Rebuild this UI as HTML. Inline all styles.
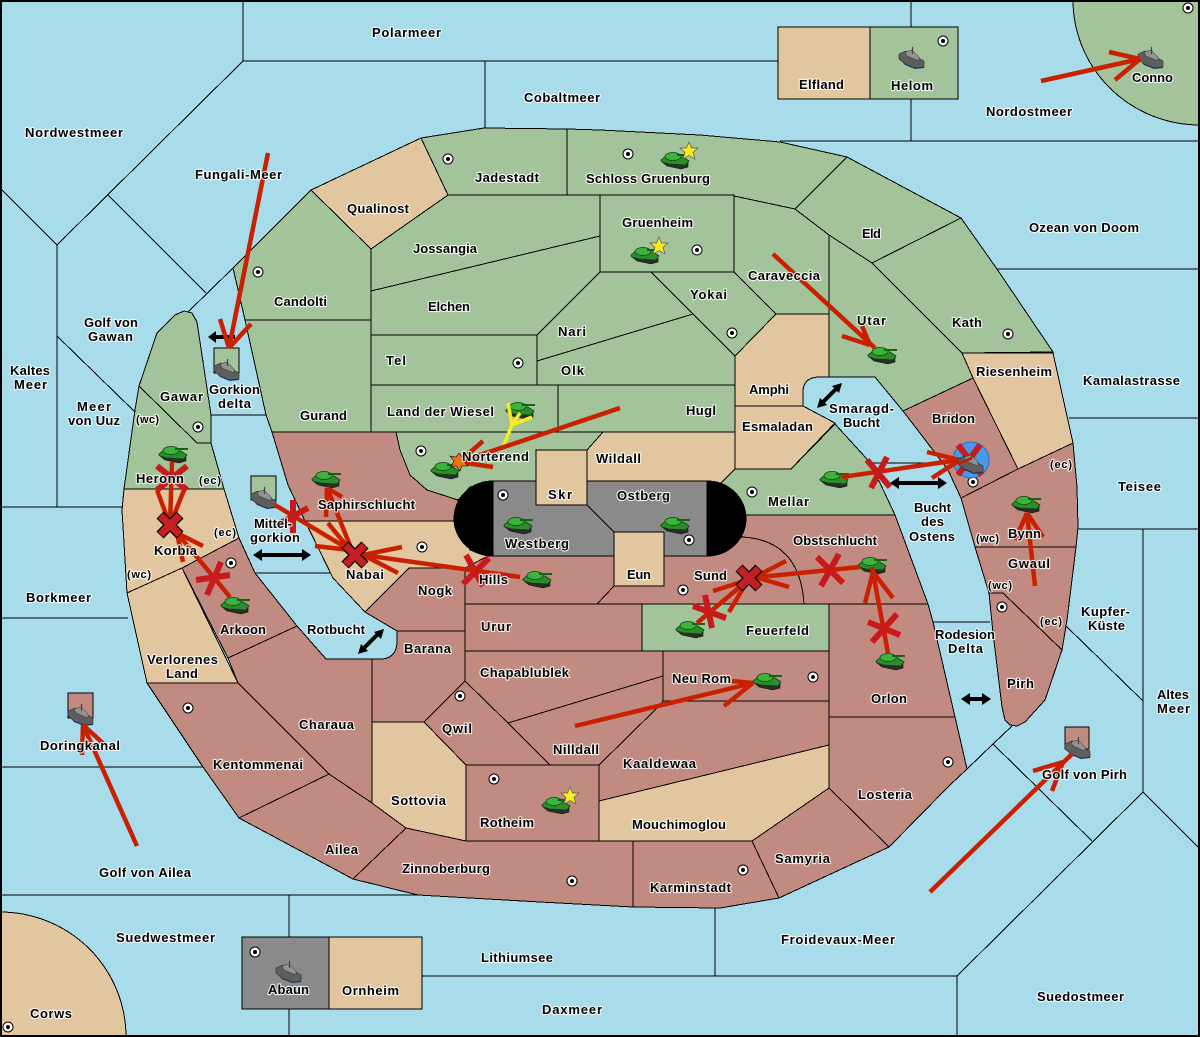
<!DOCTYPE html>
<html><head><meta charset="utf-8"><title>Map</title>
<style>
html,body{margin:0;padding:0;background:#a8dcea}
svg{display:block}
.l polygon,.l path{stroke:#000;stroke-width:1}
.sl line,.sl polyline{stroke:#000;stroke-width:1;fill:none}
text{font-family:"Liberation Sans","DejaVu Sans",sans-serif;font-weight:bold;font-size:13px;fill:#000;stroke:#fff;stroke-width:2.2px;paint-order:stroke;stroke-linejoin:round;stroke-opacity:.85}
.g{fill:#a3c49a}.t{fill:#e2c69f}.r{fill:#c28b82}.y{fill:#8a8a8a}
.m line{stroke:#c82000;stroke-width:4.500;fill:none}
.x line{stroke:#c81a1a;stroke-width:6}
.d line{stroke:#000;stroke-width:4}
.d polygon{fill:#000}
</style></head><body>
<svg xmlns="http://www.w3.org/2000/svg" width="1200" height="1037" viewBox="0 0 1200 1037">
<defs>
<g id="tank">
<polygon points="0,9 6,14 20,17 27,15 27,10 8,9" fill="#2c2c2c" stroke="#111" stroke-width=".6"/>
<polygon points="0,8 6,3 22,5 28,9 25,13 8,12 1,10" fill="#2a8f2a" stroke="#0c400c" stroke-width=".8"/>
<ellipse cx="12" cy="4.500" rx="8" ry="4" fill="#3cb43c" stroke="#0c400c" stroke-width=".7"/>
<line x1="16" y1="3" x2="29" y2="3" stroke="#146414" stroke-width="2"/>
</g>
<g id="ship">
<polygon points="0,11 6,18 16,22 25,21 25,18" fill="#123a8c"/>
<polygon points="0,7 7,4 25,14 25,20 16,21 6,17 0,12" fill="#5e5e5e" stroke="#2a2a2a" stroke-width=".6"/>
<polygon points="6,5 13,3 20,10 20,14 8,9" fill="#929292" stroke="#333" stroke-width=".5"/>
<line x1="13.500" y1="0" x2="13.500" y2="7" stroke="#444" stroke-width="1.200"/>
</g>
<g id="dot"><circle r="5" fill="#fff" stroke="#000" stroke-width="1"/><circle r="2" fill="#000"/></g>
<g id="bx">
<line x1="-10" y1="-10" x2="10" y2="10" stroke="#000" stroke-width="10"/>
<line x1="10" y1="-10" x2="-10" y2="10" stroke="#000" stroke-width="10"/>
<line x1="-9.500" y1="-9.500" x2="9.500" y2="9.500" stroke="#c41f22" stroke-width="7.500"/>
<line x1="9.500" y1="-9.500" x2="-9.500" y2="9.500" stroke="#c41f22" stroke-width="7.500"/>
</g>
<polygon id="star" points="0,-9 2.500,-3 9,-3 4,1.500 6,8 0,4.500 -6,8 -4,1.500 -9,-3 -2.500,-3" fill="#f6ec1e" stroke="#555" stroke-width=".7"/>
</defs>
<rect width="1200" height="1037" fill="#a8dcea"/>
<g class="sl" shape-rendering="crispEdges">
<line x1="243" y1="0" x2="243" y2="61"/><line x1="243" y1="61" x2="57" y2="245"/><line x1="57" y1="245" x2="0" y2="188"/>
<line x1="57" y1="245" x2="57" y2="507"/><line x1="0" y1="507" x2="122" y2="507"/><line x1="57" y1="336" x2="135" y2="412"/>
<line x1="108" y1="195" x2="206" y2="293"/><line x1="188" y1="312" x2="233" y2="268"/>
<line x1="243" y1="61" x2="778" y2="61"/><line x1="485" y1="61" x2="485" y2="128"/>
<line x1="911" y1="0" x2="911" y2="141"/><line x1="780" y1="141" x2="1200" y2="141"/>
<line x1="997" y1="269" x2="1200" y2="269"/><line x1="1069" y1="418" x2="1200" y2="418"/><line x1="1078" y1="529" x2="1200" y2="529"/>
<line x1="1143" y1="529" x2="1143" y2="792"/><line x1="1065" y1="625" x2="1143" y2="701"/>
<line x1="1143" y1="792" x2="957" y2="976"/><line x1="1143" y1="792" x2="1199" y2="848"/>
<line x1="957" y1="976" x2="957" y2="1037"/><line x1="421" y1="976" x2="957" y2="976"/>
<line x1="967" y1="769" x2="993" y2="744"/><line x1="993" y1="744" x2="1092" y2="841"/><line x1="993" y1="744" x2="1012" y2="726"/>
<line x1="715" y1="905" x2="715" y2="976"/><line x1="0" y1="895" x2="420" y2="895"/>
<line x1="289" y1="895" x2="289" y2="1037"/><line x1="0" y1="767" x2="203" y2="767"/><line x1="0" y1="618" x2="128" y2="618"/>
<line x1="211" y1="415" x2="266" y2="415"/><line x1="255" y1="573" x2="333" y2="573"/>
<line x1="866" y1="463" x2="948" y2="463"/><line x1="933" y1="622" x2="990" y2="622"/>
</g>
<g class="l" shape-rendering="crispEdges">
<path class="g" d="M1073,0 A127,125 0 0 0 1200,125 L1200,0 Z"/>
<path class="t" d="M0,912 A126,125 0 0 1 126,1037 L0,1037 Z"/>
<rect x="778" y="27" width="92" height="72" class="t" stroke="#000"/>
<rect x="870" y="27" width="88" height="72" class="g" stroke="#000"/>
<rect x="242" y="937" width="87" height="72" class="y" stroke="#000"/>
<rect x="329" y="937" width="93" height="72" class="t" stroke="#000"/>
<!-- north -->
<polygon class="g" points="233,268 311,190 371,249 371,320 245,320"/>
<polygon class="t" points="311,190 421,138 448,195 371,249"/>
<polygon class="g" points="421,138 484,128 567,129 567,195 448,195"/>
<polygon class="g" points="567,129 600,130 700,135 780,142 847,157 795,209 734,196 567,195"/>
<polygon class="g" points="847,157 961,218 872,263 829,235 795,209"/>
<polygon class="g" points="961,218 997,269 1053,352 962,353 872,263"/>
<polygon class="g" points="829,235 872,263 962,353 973,378 903,411 875,377 829,377"/>
<polygon class="g" points="734,196 795,209 829,235 829,314 776,314 734,272"/>
<polygon class="g" points="600,195 734,195 734,272 600,272"/>
<polygon class="g" points="448,195 600,195 600,236 371,291 371,249"/>
<polygon class="g" points="371,291 600,236 600,272 537,335 371,335"/>
<polygon class="g" points="371,335 537,335 537,385 371,385"/>
<polygon class="g" points="600,272 651,272 693,314 537,361 537,335"/>
<polygon class="g" points="537,361 693,314 735,356 735,385 537,385"/>
<polygon class="g" points="651,272 734,272 776,314 735,356 693,314"/>
<polygon class="g" points="245,320 371,320 371,432 272,432 266,415"/>
<polygon class="g" points="371,385 558,385 558,432 371,432"/>
<polygon class="g" points="558,385 735,385 735,432 558,432"/>
<polygon class="g" points="396,432 603,432 587,450 536,450 536,481 493,481 470,487 458,500 427,490 410,475 400,450"/>
<polygon class="t" points="603,432 735,432 735,469 721,483 587,483 587,450"/>
<path class="t" d="M776,314 L829,314 L829,377 L818,377 Q803,378 803,392 L803,406 L735,406 L735,356 Z"/>
<polygon class="t" points="735,406 803,406 835,423 791,469 735,469"/>
<polygon class="g" points="721,483 735,469 791,469 835,424 866,458 880,483 895,515 735,515"/>
<polygon class="t" points="962,353 1053,353 1073,443 1018,469 973,378"/>
<polygon class="r" points="903,411 973,378 1018,469 961,498 948,470 923,437"/>
<polygon class="r" points="961,498 1018,469 1073,443 1077,487 1078,527 1076,547 975,547"/>
<polygon class="r" points="975,547 1076,547 1067,620 1062,650 1003,593 989,593"/>
<polygon class="r" points="989,593 1003,593 1062,650 1045,700 1025,722 1017,726 1010,725 1005,720 1002,707 993,633"/>
<!-- west -->
<polygon class="g" points="139,386 157,333 175,315 184,311 192,313 197,322 211,415 211,443 197,443"/>
<polygon class="g" points="139,386 197,443 211,443 224,489 124,489 135,410"/>
<polygon class="t" points="124,489 224,489 239,538 182,568 127,593 122,510"/>
<polygon class="t" points="127,593 182,568 238,683 147,683"/>
<polygon class="r" points="182,568 239,538 255,573 297,626 228,658"/>
<polygon class="r" points="297,626 326,659 372,659 372,803 329,774 238,683 228,658"/>
<polygon class="r" points="147,683 238,683 329,774 239,818 203,767"/>
<polygon class="r" points="329,774 372,803 406,828 353,879 239,818"/>
<polygon class="r" points="272,432 396,432 400,450 410,475 427,490 458,500 456,521 305,521 288,485"/>
<polygon class="t" points="305,521 456,521 470,550 488,556 465,568 409,568 365,612 333,578"/>
<polygon class="r" points="409,568 465,568 465,631 397,631 365,612"/>
<path class="r" d="M397,631 L465,631 L465,681 L424,722 L372,722 L372,659 L383,659 Q397,657 397,641 Z"/>
<polygon class="r" points="465,568 488,556 614,556 614,586 597,604 465,604"/>
<polygon class="r" points="465,604 642,604 642,651 465,651"/>
<polygon class="g" points="642,604 829,604 829,651 642,651"/>
<polygon class="r" points="465,651 663,651 663,676 508,723 465,681"/>
<polygon class="r" points="663,651 829,651 829,701 663,701"/>
<polygon class="r" points="508,723 663,676 663,701 657,708 599,765 550,765"/>
<polygon class="r" points="663,701 829,701 829,745 599,801 599,765 657,708"/>
<polygon class="t" points="599,801 829,745 829,788 752,841 599,841"/>
<polygon class="r" points="466,765 599,765 599,841 466,841"/>
<polygon class="r" points="465,681 508,723 550,765 466,765 424,722"/>
<polygon class="t" points="372,722 424,722 466,765 466,841 406,828 372,803"/>
<polygon class="r" points="406,828 466,841 633,841 633,907 540,902 418,895 353,879"/>
<polygon class="r" points="633,841 752,841 779,898 720,908 633,907"/>
<polygon class="r" points="752,841 829,788 889,847 779,898"/>
<polygon class="r" points="829,717 955,717 967,769 950,785 889,847 829,788"/>
<polygon class="r" points="829,604 928,604 933,622 955,717 829,717"/>
<path class="r" d="M597,604 L614,586 L664,586 L664,556 L707,556 L742,537 Q800,540 804,604 Z"/>
<path class="r" d="M735,515 L895,515 L928,604 L804,604 Q800,540 742,537 Z"/>
<rect x="493" y="481" width="214" height="75" class="y" stroke="#000"/>
<rect x="536" y="450" width="51" height="55" class="t" stroke="#000"/>
<rect x="614" y="532" width="50" height="54" class="t" stroke="#000"/>
<line x1="587" y1="505" x2="614" y2="532" stroke="#000"/>
<path d="M493,481 A39,37.500 0 0 0 493,556 Z" fill="#000"/>
<path d="M707,481 A39,37.500 0 0 1 707,556 Z" fill="#000"/>
<rect x="214" y="348" width="25" height="25" class="g" stroke="#000"/>
<rect x="251" y="476" width="25" height="24" class="g" stroke="#000"/>
<rect x="68" y="693" width="25" height="25" class="r" stroke="#000"/>
<rect x="1065" y="727" width="24" height="22" class="r" stroke="#000"/>
</g>
<rect x="1" y="1" width="1198" height="1035" fill="none" stroke="#000" stroke-width="2"/>
<!-- supply -->
<use href="#dot" x="448" y="159"/><use href="#dot" x="628" y="154"/><use href="#dot" x="258" y="272"/><use href="#dot" x="697" y="250"/>
<use href="#dot" x="518" y="363"/><use href="#dot" x="732" y="333"/><use href="#dot" x="1008" y="334"/><use href="#dot" x="198" y="427"/>
<use href="#dot" x="421" y="451"/><use href="#dot" x="503" y="495"/><use href="#dot" x="752" y="492"/><use href="#dot" x="689" y="540"/>
<use href="#dot" x="422" y="547"/><use href="#dot" x="231" y="563"/><use href="#dot" x="683" y="590"/><use href="#dot" x="813" y="677"/>
<use href="#dot" x="188" y="708"/><use href="#dot" x="460" y="696"/><use href="#dot" x="494" y="779"/><use href="#dot" x="572" y="881"/>
<use href="#dot" x="743" y="870"/><use href="#dot" x="948" y="762"/><use href="#dot" x="1002" y="607"/><use href="#dot" x="973" y="482"/>
<use href="#dot" x="943" y="41"/><use href="#dot" x="1188" y="8"/><use href="#dot" x="255" y="952"/><use href="#dot" x="8" y="1027"/>
<!-- black double arrows -->
<g class="d">
<line x1="214" y1="337" x2="235" y2="337"/><polygon points="208,337 216,331 216,343"/>
<line x1="259" y1="555" x2="305" y2="555"/><polygon points="253,555 262,549 262,561"/><polygon points="311,555 302,549 302,561"/>
<line x1="362" y1="650" x2="380" y2="632"/><polygon points="358,654 361,644 368,651"/><polygon points="384,629 381,639 374,632"/>
<line x1="821" y1="404" x2="838" y2="387"/><polygon points="817,408 820,398 827,405"/><polygon points="842,383 839,393 832,386"/>
<line x1="896" y1="483" x2="941" y2="483"/><polygon points="890,483 899,477 899,489"/><polygon points="947,483 938,477 938,489"/>
<line x1="967" y1="699" x2="985" y2="699"/><polygon points="961,699 970,693 970,705"/><polygon points="991,699 982,693 982,705"/>
</g>
<circle cx="971" cy="460" r="18" fill="#4a98e8" stroke="#2a6ac0" stroke-width="1"/>
<!-- units -->
<use href="#ship" x="214" y="359"/><use href="#ship" x="251" y="487"/><use href="#ship" x="899" y="47"/><use href="#ship" x="1138" y="47"/>
<use href="#ship" x="276" y="961"/><use href="#ship" x="68" y="704"/><use href="#ship" x="1065" y="737"/>
<use href="#tank" x="159" y="446"/><use href="#tank" x="221" y="597"/><use href="#tank" x="312" y="471"/><use href="#tank" x="431" y="462"/>
<use href="#tank" x="506" y="402"/><use href="#tank" x="504" y="517"/><use href="#tank" x="661" y="517"/><use href="#tank" x="523" y="571"/>
<use href="#tank" x="676" y="621"/><use href="#tank" x="753" y="673"/><use href="#tank" x="820" y="471"/><use href="#tank" x="858" y="557"/>
<use href="#tank" x="876" y="653"/><use href="#tank" x="1012" y="496"/><use href="#tank" x="868" y="347"/><use href="#tank" x="661" y="152"/>
<use href="#tank" x="631" y="247"/><use href="#tank" x="542" y="797"/>
<use href="#star" x="689" y="151"/><use href="#star" x="659" y="246"/><use href="#star" x="570" y="796"/>
<!-- yellow -->
<g stroke="#f6ec1e" stroke-width="3.500"><line x1="503" y1="447" x2="512" y2="425"/><line x1="512" y1="425" x2="508" y2="403"/><line x1="512" y1="425" x2="520" y2="413"/><line x1="512" y1="425" x2="532" y2="417"/></g>
<!-- red moves -->
<g class="m">
<line x1="268" y1="153" x2="229" y2="348"/><line x1="220" y1="319" x2="229" y2="348"/><line x1="251" y1="324" x2="229" y2="348"/>
<line x1="1041" y1="81" x2="1140" y2="59"/><line x1="1109" y1="52" x2="1140" y2="59"/><line x1="1115" y1="80" x2="1140" y2="59"/>
<line x1="575" y1="726" x2="753" y2="683"/><line x1="732" y1="681" x2="753" y2="683"/><line x1="724" y1="706" x2="753" y2="683"/>
<line x1="930" y1="892" x2="1072" y2="754"/><line x1="1033" y1="771" x2="1063" y2="762"/><line x1="1052" y1="791" x2="1063" y2="762"/>
<line x1="773" y1="254" x2="875" y2="348"/><line x1="842" y1="336" x2="870" y2="345"/><line x1="862" y1="326" x2="870" y2="345"/>
<line x1="620" y1="408" x2="459" y2="462"/><line x1="483" y1="441" x2="459" y2="462"/><line x1="493" y1="467" x2="459" y2="462"/>
<line x1="172" y1="462" x2="170" y2="525"/><line x1="157" y1="490" x2="170" y2="525"/><line x1="184" y1="490" x2="170" y2="525"/>
<line x1="230" y1="597" x2="177" y2="533"/><line x1="203" y1="546" x2="177" y2="533"/><line x1="183" y1="562" x2="177" y2="533"/>
<line x1="275" y1="505" x2="355" y2="553"/><line x1="327" y1="488" x2="353" y2="553"/><line x1="326" y1="517" x2="327" y2="488"/><line x1="342" y1="497" x2="327" y2="488"/>
<line x1="520" y1="577" x2="363" y2="555"/><line x1="402" y1="547" x2="363" y2="555"/><line x1="398" y1="573" x2="363" y2="555"/>
<line x1="315" y1="546" x2="350" y2="550"/><line x1="328" y1="523" x2="350" y2="550"/>
<line x1="860" y1="567" x2="749" y2="578"/><line x1="786" y1="561" x2="755" y2="577"/><line x1="789" y1="587" x2="755" y2="577"/>
<line x1="697" y1="623" x2="748" y2="580"/><line x1="713" y1="591" x2="748" y2="580"/><line x1="729" y1="612" x2="748" y2="580"/>
<line x1="888" y1="653" x2="872" y2="567"/><line x1="865" y1="603" x2="873" y2="572"/><line x1="893" y1="598" x2="873" y2="572"/>
<line x1="842" y1="477" x2="972" y2="458"/><line x1="927" y1="452" x2="960" y2="460"/><line x1="932" y1="478" x2="960" y2="460"/>
<line x1="1035" y1="586" x2="1027" y2="513"/><line x1="1015" y1="540" x2="1027" y2="513"/><line x1="1043" y1="537" x2="1027" y2="513"/>
<line x1="137" y1="846" x2="83" y2="725"/><line x1="82" y1="755" x2="83" y2="725"/><line x1="105" y1="745" x2="83" y2="725"/>
</g>
<!-- thin X -->
<g class="x">
<line x1="196" y1="580" x2="230" y2="575"/><line x1="207" y1="595" x2="221" y2="562"/>
<line x1="293" y1="500" x2="293" y2="533"/><line x1="277" y1="525" x2="308" y2="508"/>
<line x1="466" y1="555" x2="483" y2="586"/><line x1="489" y1="558" x2="463" y2="584"/>
<line x1="817" y1="557" x2="843" y2="583"/><line x1="839" y1="554" x2="821" y2="586"/>
<line x1="693" y1="606" x2="726" y2="618"/><line x1="705" y1="595" x2="712" y2="628"/>
<line x1="868" y1="622" x2="900" y2="635"/><line x1="897" y1="614" x2="872" y2="642"/>
<line x1="867" y1="460" x2="890" y2="487"/><line x1="887" y1="457" x2="871" y2="488"/>
<line x1="958" y1="445" x2="982" y2="475" stroke-width="4"/><line x1="980" y1="445" x2="958" y2="475" stroke-width="4"/>
<line x1="157" y1="466" x2="187" y2="490" stroke-width="4"/><line x1="187" y1="466" x2="157" y2="490" stroke-width="4"/>
</g>
<use href="#ship" x="958" y="452"/>
<line x1="958" y1="464" x2="972" y2="458" stroke="#c82000" stroke-width="3"/>
<use href="#bx" x="170" y="525"/><use href="#bx" x="355" y="555"/><use href="#bx" x="749" y="578"/>
<polygon points="459,453 462,457 467,456 464,461 468,466 462,466 460,471 456,466 451,467 454,461 450,456 456,457" fill="#f07010" stroke="#000" stroke-width=".6"/>
<!-- labels -->
<g>
<text x="372" y="37" textLength="69">Polarmeer</text>
<text x="524" y="102" textLength="76">Cobaltmeer</text>
<text x="25" y="137" textLength="98">Nordwestmeer</text>
<text x="195" y="179" textLength="87">Fungali-Meer</text>
<text x="347" y="213" textLength="62">Qualinost</text>
<text x="475" y="182" textLength="64">Jadestadt</text>
<text x="586" y="183" textLength="124">Schloss Gruenburg</text>
<text x="622" y="227" textLength="71">Gruenheim</text>
<text x="413" y="253" textLength="64">Jossangia</text>
<text x="428" y="311" textLength="42">Elchen</text>
<text x="274" y="306" textLength="53">Candolti</text>
<text x="862" y="238" textLength="19">Eld</text>
<text x="1029" y="232" textLength="110">Ozean von Doom</text>
<text x="748" y="280" textLength="72">Caraveccia</text>
<text x="690" y="299" textLength="37">Yokai</text>
<text x="558" y="336" textLength="28">Nari</text>
<text x="952" y="327" textLength="30">Kath</text>
<text x="857" y="325" textLength="29">Utar</text>
<text x="84" y="327" textLength="54">Golf von</text>
<text x="88" y="341" textLength="45">Gawan</text>
<text x="10" y="375" textLength="40">Kaltes</text>
<text x="14" y="389" textLength="33">Meer</text>
<text x="77" y="411" textLength="34">Meer</text>
<text x="68" y="425" textLength="52">von Uuz</text>
<text x="160" y="401" textLength="43">Gawar</text>
<text x="136" y="423" textLength="23" style="font-size:11px">(wc)</text>
<text x="386" y="365" textLength="20">Tel</text>
<text x="561" y="375" textLength="23">Olk</text>
<text x="300" y="420" textLength="47">Gurand</text>
<text x="387" y="416" textLength="107">Land der Wiesel</text>
<text x="686" y="415" textLength="30">Hugl</text>
<text x="749" y="394" textLength="40">Amphi</text>
<text x="976" y="376" textLength="76">Riesenheim</text>
<text x="1083" y="385" textLength="97">Kamalastrasse</text>
<text x="742" y="431" textLength="71">Esmaladan</text>
<text x="829" y="413" textLength="65">Smaragd-</text>
<text x="843" y="427" textLength="37">Bucht</text>
<text x="932" y="423" textLength="43">Bridon</text>
<text x="462" y="461" textLength="67">Norterend</text>
<text x="596" y="463" textLength="45">Wildall</text>
<text x="548" y="499" textLength="24">Skr</text>
<text x="617" y="500" textLength="53">Ostberg</text>
<text x="768" y="506" textLength="41">Mellar</text>
<text x="1118" y="491" textLength="43">Teisee</text>
<text x="1050" y="468" textLength="22" style="font-size:11px">(ec)</text>
<text x="914" y="512" textLength="37">Bucht</text>
<text x="921" y="526" textLength="23">des</text>
<text x="909" y="541" textLength="46">Ostens</text>
<text x="136" y="483" textLength="48">Heronn</text>
<text x="199" y="484" textLength="22" style="font-size:11px">(ec)</text>
<text x="318" y="509" textLength="97">Saphirschlucht</text>
<text x="209" y="394" textLength="51">Gorkion</text>
<text x="218" y="408" textLength="33">delta</text>
<text x="254" y="528" textLength="38">Mittel-</text>
<text x="250" y="542" textLength="50">gorkion</text>
<text x="154" y="555" textLength="43">Korbia</text>
<text x="214" y="536" textLength="22" style="font-size:11px">(ec)</text>
<text x="127" y="578" textLength="24" style="font-size:11px">(wc)</text>
<text x="505" y="548" textLength="64">Westberg</text>
<text x="793" y="545" textLength="84">Obstschlucht</text>
<text x="1008" y="538" textLength="33">Bynn</text>
<text x="976" y="542" textLength="23" style="font-size:11px">(wc)</text>
<text x="1008" y="568" textLength="42">Gwaul</text>
<text x="988" y="589" textLength="24" style="font-size:11px">(wc)</text>
<text x="1040" y="625" textLength="22" style="font-size:11px">(ec)</text>
<text x="346" y="579" textLength="38">Nabai</text>
<text x="479" y="584" textLength="29">Hills</text>
<text x="627" y="579" textLength="24">Eun</text>
<text x="694" y="580" textLength="33">Sund</text>
<text x="418" y="595" textLength="34">Nogk</text>
<text x="26" y="602" textLength="65">Borkmeer</text>
<text x="481" y="631" textLength="30">Urur</text>
<text x="746" y="635" textLength="63">Feuerfeld</text>
<text x="307" y="634" textLength="58">Rotbucht</text>
<text x="220" y="634" textLength="46">Arkoon</text>
<text x="935" y="639" textLength="60">Rodesion</text>
<text x="948" y="653" textLength="35">Delta</text>
<text x="1081" y="616" textLength="49">Kupfer-</text>
<text x="1088" y="630" textLength="37">Küste</text>
<text x="404" y="653" textLength="47">Barana</text>
<text x="147" y="664" textLength="71">Verlorenes</text>
<text x="166" y="678" textLength="32">Land</text>
<text x="480" y="677" textLength="89">Chapablublek</text>
<text x="672" y="683" textLength="59">Neu Rom</text>
<text x="1007" y="688" textLength="27">Pirh</text>
<text x="1157" y="699" textLength="32">Altes</text>
<text x="1157" y="713" textLength="33">Meer</text>
<text x="871" y="703" textLength="36">Orlon</text>
<text x="299" y="729" textLength="55">Charaua</text>
<text x="442" y="733" textLength="30">Qwil</text>
<text x="40" y="750" textLength="80">Doringkanal</text>
<text x="553" y="754" textLength="46">Nilldall</text>
<text x="213" y="769" textLength="90">Kentommenai</text>
<text x="623" y="768" textLength="73">Kaaldewaa</text>
<text x="1042" y="779" textLength="85">Golf von Pirh</text>
<text x="858" y="799" textLength="54">Losteria</text>
<text x="391" y="805" textLength="55">Sottovia</text>
<text x="480" y="827" textLength="54">Rotheim</text>
<text x="632" y="829" textLength="94">Mouchimoglou</text>
<text x="325" y="854" textLength="33">Ailea</text>
<text x="775" y="863" textLength="55">Samyria</text>
<text x="402" y="873" textLength="88">Zinnoberburg</text>
<text x="99" y="877" textLength="92">Golf von Ailea</text>
<text x="650" y="892" textLength="81">Karminstadt</text>
<text x="116" y="942" textLength="99">Suedwestmeer</text>
<text x="781" y="944" textLength="114">Froidevaux-Meer</text>
<text x="481" y="962" textLength="72">Lithiumsee</text>
<text x="268" y="994" textLength="41">Abaun</text>
<text x="342" y="995" textLength="57">Ornheim</text>
<text x="542" y="1014" textLength="60">Daxmeer</text>
<text x="1037" y="1001" textLength="87">Suedostmeer</text>
<text x="30" y="1018" textLength="42">Corws</text>
<text x="799" y="89" textLength="45">Elfland</text>
<text x="891" y="90" textLength="42">Helom</text>
<text x="1132" y="82" textLength="41">Conno</text>
<text x="986" y="116" textLength="86">Nordostmeer</text>
</g>
</svg>
</body></html>
